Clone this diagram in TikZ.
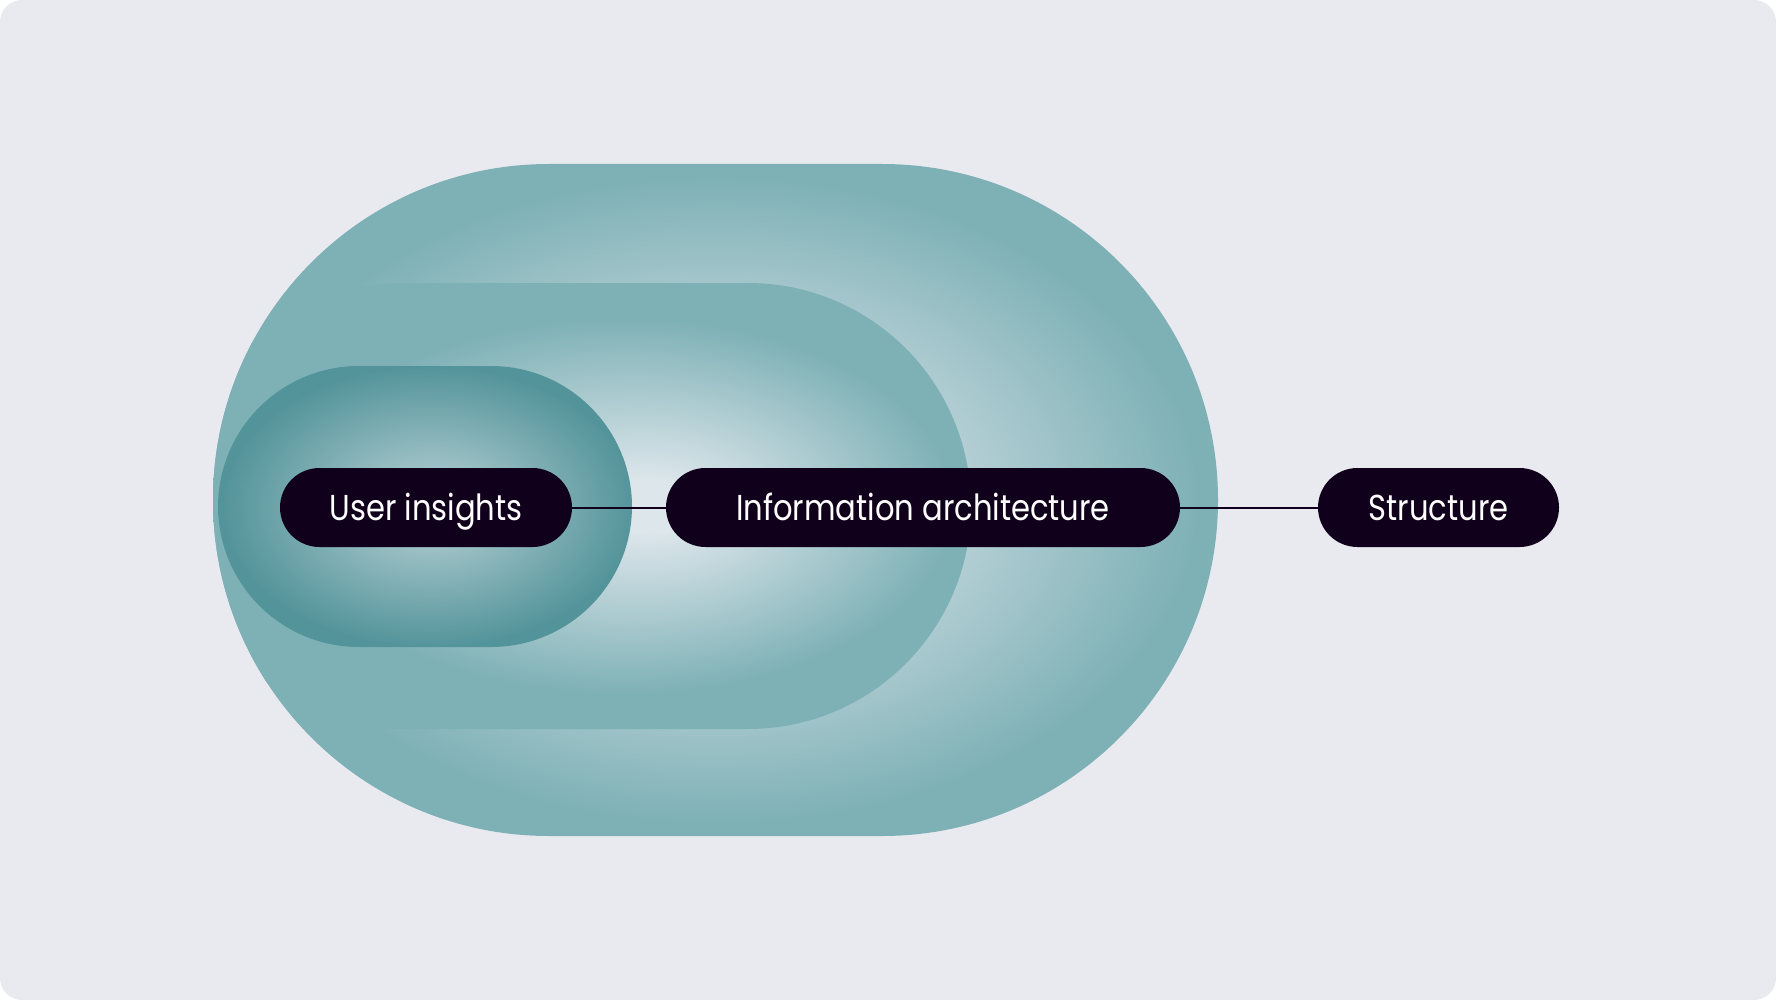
\documentclass[tikz,border=0pt]{standalone}
\usepackage{fontspec}
\setmainfont{Poppins}[FakeStretch=0.85]
\definecolor{bgc}{HTML}{E9EAEF}
\definecolor{pillc}{HTML}{11001B}
\definecolor{tealc}{HTML}{7EB1B6}
\definecolor{olight}{HTML}{D3E0E6}
\definecolor{mlight}{HTML}{DCE6EB}
\definecolor{ilight}{HTML}{A6C6CB}
\definecolor{idark}{HTML}{53949A}
\pgfdeclareradialshading{outerSh}{\pgfpoint{0bp}{0bp}}{color(0bp)=(olight); color(6bp)=(olight); color(24bp)=(tealc); color(25bp)=(tealc); color(50bp)=(tealc)}
\pgfdeclareradialshading{midSh}{\pgfpoint{5bp}{0bp}}{color(0bp)=(mlight); color(3bp)=(mlight); color(21bp)=(tealc); color(25bp)=(tealc); color(50bp)=(tealc)}
\pgfdeclareradialshading{innerSh}{\pgfpoint{1bp}{0bp}}{color(0bp)=(ilight); color(5bp)=(ilight); color(25bp)=(idark); color(50bp)=(idark)}
\begin{document}
\begin{tikzpicture}[x=1pt,y=-1pt,
  pill/.style={fill=pillc, text=white, rounded corners=39.5pt, minimum height=79pt,
    inner sep=0pt, text height=25pt, text depth=0pt, font=\fontsize{36}{40}\selectfont},
  conn/.style={draw=pillc, line width=2pt}]
\useasboundingbox (0,0) rectangle (1776,1000);
\fill[white] (0,0) rectangle (1776,1000);
\fill[bgc, rounded corners=22pt] (0,0) rectangle (1776,1000);
% outer stadium
\path[shading=outerSh, rounded corners=336pt] (213,164) rectangle (1218,836);
% middle stadium, clipped to outer
\begin{scope}
\clip[rounded corners=336pt] (213,164) rectangle (1218,836);
\path[shading=midSh, rounded corners=223pt] (180,283) rectangle (971,729);
\end{scope}
% inner stadium
\path[shading=innerSh, rounded corners=141pt] (218,366) rectangle (632,647);
% pills
\node[pill, minimum width=292pt] (ui) at (426,507.5) {User insights};
\node[pill, minimum width=514pt] (ia) at (923,507.5) {Information architecture};
\node[pill, minimum width=241pt] (st) at (1438.5,507.5) {Structure};
\draw[conn] (ui.east) -- (ia.west);
\draw[conn] (ia.east) -- (st.west);
\end{tikzpicture}
\end{document}
